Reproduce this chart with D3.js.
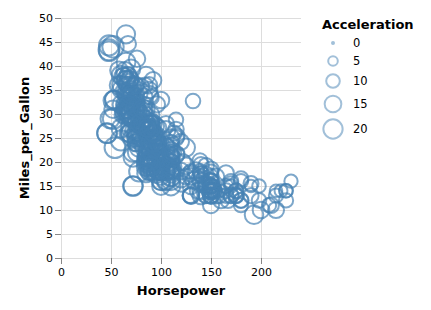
<!DOCTYPE html>
<html>
<head>
<meta charset="utf-8">
<script src="https://cdn.jsdelivr.net/npm/d3@7"></script>
<style>
  body { margin: 0; background: white; }
  svg { font-family: "DejaVu Sans", sans-serif; }
</style>
</head>
<body>
<svg id="chart" width="431" height="310"></svg>
<script>
// [Horsepower, Miles_per_Gallon, Acceleration], grouped by model year
const cars70 = [[130,18,12],[165,15,11.5],[150,18,11],[150,16,12],[140,17,10.5],[198,15,10],[220,14,9],[215,14,8.5],[225,14,10],[190,15,8.5],[170,15,10],[160,14,8],[150,15,9.5],[225,14,10],[95,24,15],[95,22,15.5],[97,18,15.5],[85,21,16],[88,27,14.5],[46,26,20.5],[87,25,17.5],[90,24,14.5],[95,25,17.5],[113,26,12.5],[90,21,15],[215,10,14],[200,10,15],[210,11,13.5],[193,9,18.5]];
const cars71 = [[88,27,14.5],[90,28,15.5],[95,25,14],[100,19,13],[105,16,15.5],[100,17,15.5],[88,19,15.5],[100,18,15.5],[165,14,12],[175,14,11.5],[153,14,13.5],[150,14,13],[180,12,11.5],[170,13,12],[175,13,12],[110,18,13.5],[72,22,19],[100,19,15],[88,18,14.5],[86,23,14],[90,28,14],[70,30,19.5],[76,30,14.5],[65,31,19],[69,35,18],[60,27,19],[70,26,20.5],[95,24,15.5],[80,25,17],[54,23,23.5],[90,20,19.5],[86,21,16.5]];
const cars72 = [[165,13,12],[175,14,12],[150,15,13.5],[153,14,13],[150,17,11.5],[208,11,11],[155,13,13.5],[160,12,13.5],[190,13,12.5],[97,19,13.5],[150,15,12.5],[130,13,14],[140,13,16],[150,14,14],[112,18,14.5],[76,22,18],[87,21,19.5],[69,26,18],[86,22,16],[92,28,17],[97,23,14.5],[80,28,15],[88,27,16.5]];
const cars73 = [[175,13,13],[150,14,11.5],[145,13,13],[137,14,14.5],[150,15,12.5],[198,12,11.5],[150,13,12],[158,13,13],[150,14,14.5],[215,13,11],[225,12,11],[175,13,11],[105,18,16.5],[100,16,18],[100,18,16],[88,18,16.5],[95,23,16],[46,26,21],[150,11,14],[167,12,12.5],[170,13,13],[180,12,12.5],[100,18,15],[88,20,19],[72,21,19.5],[94,22,16.5],[90,18,13.5],[85,19,18.5],[107,21,14],[90,26,15.5],[145,15,13],[230,16,9.5],[49,29,19.5],[75,24,15.5],[91,20,14],[112,19,15.5],[150,15,11],[110,24,14],[122,20,13.5],[180,11,11]];
const cars74 = [[95,20,16.5],[100,19,16],[100,15,17],[67,31,19],[80,26,16.5],[65,32,21],[75,25,17],[100,16,17],[110,16,18],[105,18,16.5],[140,16,14],[150,13,14.5],[150,14,13.5],[140,14,16],[150,14,15.5],[83,29,16.5],[67,26,15.5],[78,26,14.5],[52,31,16.5],[61,32,19],[75,28,14.5],[75,24,15.5],[75,26,14],[97,24,15],[93,26,15.5],[67,31,16]];
const cars75 = [[95,19,16],[105,18,16],[72,15,21],[72,15,19.5],[170,16,11.5],[145,15,14],[150,16,14.5],[148,14,13.5],[110,17,21],[105,16,18.5],[110,15,19],[95,18,19],[110,21,15],[110,20,13.5],[129,13,12],[75,29,16],[83,23,17],[100,20,16],[78,23,18.5],[96,24,13.5],[71,25,16.5],[97,24,17],[97,18,14.5],[70,29,14],[90,19,17],[95,23,15],[88,23,17],[98,22,14.5],[115,25,13.5],[53,33,17.5]];
const cars76 = [[86,28,15.5],[81,25,16.9],[92,25,14.9],[79,26,17.7],[83,27,15.3],[140,17.5,13],[150,16,13],[120,15.5,13.9],[152,14.5,12.8],[100,22,15.4],[105,22,14.5],[81,24,17.6],[90,22.5,17.6],[52,29,22.2],[60,24.5,22.1],[70,29,14.2],[53,33,17.4],[100,20,17.7],[78,18,21],[110,18.5,16.2],[95,17.5,17.8],[71,29.5,12.2],[70,32,17],[75,28,16.4],[72,26.5,13.6],[102,20,15.7],[150,13,13.2],[88,19,21.9],[108,19,15.5],[120,16.5,16.7],[180,16.5,12.1],[145,13,12],[130,13,15],[150,13,14]];
const cars77 = [[68,31.5,18.5],[80,30,14.8],[58,36,18.6],[96,25.5,15.5],[70,33.5,16.8],[145,17.5,12.5],[110,17,19],[145,15.5,13.7],[130,15,14.9],[110,17.5,16.4],[105,20.5,16.9],[100,19,17.7],[98,18.5,19],[180,16,11.1],[170,15.5,11.4],[190,15.5,12.2],[149,16,14.5],[78,29,14.5],[88,24.5,16],[75,26,18.2],[89,25.5,15.8],[63,30.5,17],[83,33.5,15.9],[67,30,16.4],[78,30.5,14.1],[97,22,14.5],[110,21.5,12.8],[110,21.5,13.5]];
const cars78 = [[48,43.1,21.5],[66,36.1,14.4],[52,32.8,19.4],[70,39.4,18.6],[60,36.1,16.4],[110,19.9,15.5],[140,19.4,13.2],[139,20.2,12.8],[105,19.2,19.2],[95,20.5,18.2],[85,20.2,15.8],[88,25.1,15.4],[100,20.5,17.2],[90,19.4,17.2],[105,20.6,15.8],[85,20.8,16.7],[110,18.6,18.7],[120,18.1,15.1],[145,19.2,13.2],[165,17.7,13.4],[139,18.1,11.2],[140,17.5,13.7],[68,30,16.5],[95,27.5,14.2],[97,27.2,14.7],[75,30.9,14.5],[95,21.1,14.8],[105,23.2,16.7],[85,23.8,17.6],[97,23.9,14.9],[103,20.3,15.9],[125,17,13.6],[115,21.6,15.7],[133,16.2,15.8],[71,31.5,14.9],[68,29.5,16.6]];
const cars79 = [[115,21.5,15.4],[85,19.8,18.2],[88,22.3,17.3],[90,20.2,18.2],[110,20.6,16.6],[130,17,15.4],[129,17.6,13.4],[138,16.5,13.2],[135,18.2,15.2],[155,16.9,14.9],[142,15.5,14.3],[125,19.2,15],[150,18.5,13],[71,31.9,14],[65,34.1,15.2],[80,35.7,14.4],[80,27.4,15],[77,25.4,20.1],[125,23,17.4],[71,27.2,24.8],[90,23.9,22.2],[70,34.2,13.2],[70,34.5,14.9],[65,31.8,19.2],[69,37.3,14.7],[90,28.4,16],[115,28.8,11.3],[115,26.8,12.9],[90,33.5,13.2]];
const cars80 = [[76,41.5,14.7],[60,38.1,18.8],[70,32.1,15.5],[65,37.2,16.4],[90,28,16.5],[88,26.4,18.1],[90,24.3,20.1],[90,19.1,18.7],[78,34.3,15.8],[90,29.8,15.5],[75,31.3,17.5],[92,37,15],[75,32.2,15.2],[65,46.6,17.9],[105,27.9,14.4],[65,40.8,19.2],[48,44.3,21.7],[48,43.4,23.7],[67,36.4,19.9],[67,30,21.8],[67,44.6,13.8],[67,33.8,18],[62,29.8,15.3],[132,32.7,11.4],[100,23.7,12.5],[88,35,15.1],[72,32.4,17]];
const cars81 = [[84,27.2,15.7],[84,26.6,16.4],[92,25.8,14.4],[110,23.5,12.6],[84,30,12.9],[58,39.1,16.9],[64,39,16.4],[60,35.1,16.1],[67,32.3,17.8],[65,37,19.4],[62,37.7,17.3],[68,34.1,16],[63,34.7,14.9],[65,34.4,16.2],[65,29.9,20.7],[74,33,14.2],[75,33.7,14.4],[75,32.4,16.8],[100,32.9,14.8],[74,31.6,18.3],[80,28.1,20.4],[76,30.7,19.6],[116,25.4,12.6],[120,24.2,13.8],[110,22.4,15.8],[105,26.6,19],[88,20.2,17.1],[85,17.6,16.6]];
const cars82 = [[88,28,19.6],[88,27,18.6],[88,34,18],[85,31,16.2],[84,29,16],[90,27,18],[92,24,16.4],[74,36,15.3],[68,37,18.2],[68,31,17.6],[63,38,14.7],[70,36,17.3],[88,36,14.5],[75,36,14.5],[70,34,16.9],[67,38,15],[67,32,15.7],[67,38,16.2],[110,25,16.4],[85,38,17],[92,26,14.5],[112,22,14.7],[96,32,13.9],[84,36,13],[90,27,17.3],[86,27,15.6],[52,44,24.6],[84,32,11.6],[79,28,18.6],[82,31,19.4]];

const xTicks = [0, 50, 100, 150, 200];
const yTicks = [0, 5, 10, 15, 20, 25, 30, 35, 40, 45, 50];
const legendValues = [0, 5, 10, 15, 20];

const data = [].concat(cars70, cars71, cars72, cars73, cars74, cars75, cars76,
    cars77, cars78, cars79, cars80, cars81, cars82)
    .map(function(d){ return {hp: d[0], mpg: d[1], acc: d[2]}; });

const marginLeft = 61, marginTop = 18, width = 240, height = 240;
const color = "#4682b4";

const svg = d3.select("#chart");
const g = svg.append("g").attr("transform", "translate(" + marginLeft + "," + marginTop + ")");

const x = d3.scaleLinear().domain([0, 240]).range([0, width]);
const y = d3.scaleLinear().domain([0, 50]).range([height, 0]);
// area grows linearly with acceleration -> radius on a sqrt scale
const r = d3.scaleSqrt().domain([0, 24.8]).range([0, Math.sqrt(361 / Math.PI)]);

// grid
g.append("g").selectAll("line").data(yTicks).join("line")
    .attr("x1", 0).attr("x2", width)
    .attr("y1", function(d){ return y(d) + 0.5; }).attr("y2", function(d){ return y(d) + 0.5; })
    .style("stroke", "#ddd");
g.append("g").selectAll("line").data(xTicks).join("line")
    .attr("y1", 0).attr("y2", height)
    .attr("x1", function(d){ return x(d) + 0.5; }).attr("x2", function(d){ return x(d) + 0.5; })
    .style("stroke", "#ddd");

// axes
const xAxis = g.append("g")
    .attr("transform", "translate(0," + height + ")")
    .call(d3.axisBottom(x).tickValues(xTicks).tickSize(6).tickPadding(4.5));
const yAxis = g.append("g")
    .call(d3.axisLeft(y).tickValues(yTicks).tickSize(6).tickPadding(2));
[xAxis, yAxis].forEach(function(a){
    a.select(".domain").remove();
    a.selectAll(".tick line").style("stroke", "#888");
    a.selectAll(".tick text").style("font-size", "11px").style("fill", "#000")
        .style("font-family", "DejaVu Sans, sans-serif");
});

// points
g.append("g").selectAll("circle").data(data).join("circle")
    .attr("cx", function(d){ return x(d.hp); })
    .attr("cy", function(d){ return y(d.mpg); })
    .attr("r", function(d){ return r(d.acc); })
    .style("fill", "none")
    .style("stroke", color)
    .style("stroke-width", 2)
    .style("opacity", 0.7);

// axis titles
svg.append("text").text("Horsepower")
    .attr("x", marginLeft + width / 2).attr("y", 295)
    .attr("text-anchor", "middle")
    .style("font-size", "13px").style("font-weight", "bold");
svg.append("text").text("Miles_per_Gallon")
    .attr("transform", "translate(29," + (marginTop + height / 2) + ") rotate(-90)")
    .attr("text-anchor", "middle")
    .style("font-size", "13px").style("font-weight", "bold");

// legend
const legendX = 322, legendY = 29;
svg.append("text").text("Acceleration")
    .attr("x", legendX).attr("y", legendY)
    .style("font-size", "13px").style("font-weight", "bold");
const rowY = [43, 61, 81, 104, 129];
const lg = svg.append("g").selectAll("g").data(legendValues).join("g")
    .attr("transform", function(d, i){ return "translate(" + (legendX + 11) + "," + rowY[i] + ")"; });
lg.append("circle")
    .attr("r", function(d){ return Math.max(r(d), 1); })
    .style("fill", function(d){ return d === 0 ? color : "none"; })
    .style("stroke", color)
    .style("stroke-width", 2)
    .style("opacity", 0.5);
lg.append("text").text(function(d){ return d; })
    .attr("x", 20).attr("dy", "0.35em")
    .style("font-size", "11.5px");
</script>
</body>
</html>
